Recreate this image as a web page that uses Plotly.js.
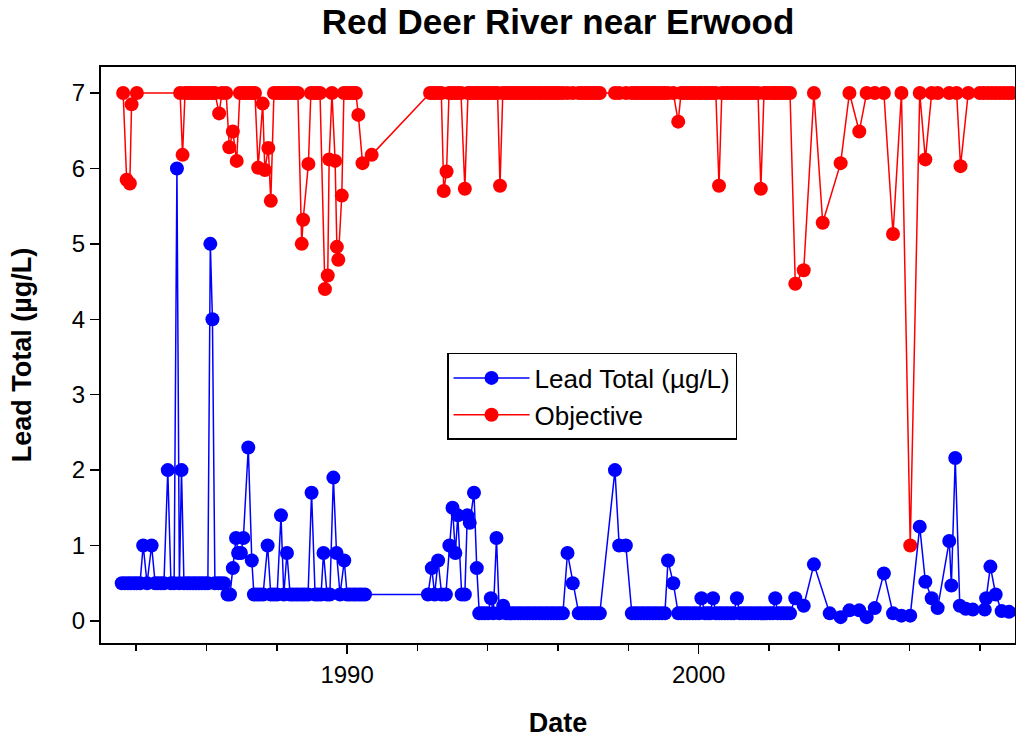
<!DOCTYPE html>
<html>
<head>
<meta charset="utf-8">
<script src="https://cdn.plot.ly/plotly-3.0.1.min.js"></script>
<style>html,body{margin:0;padding:0;background:#fff;}</style>
</head>
<body>
<div id="chart" style="width:1016px;height:741px;"></div>
<script>
// Sample dates (decimal years) and Lead Total (µg/L)
const leadDates = [
  1983.59,1983.68,1983.77,1983.85,1983.94,1984.02,1984.11,1984.20,1984.31,1984.44,
  1984.54,1984.62,1984.71,1984.79,1984.90,1984.99,1985.08,1985.16,1985.23,1985.29,
  1985.36,1985.45,1985.53,1985.62,1985.70,1985.79,1985.87,1985.96,1986.04,1986.11,
  1986.17,1986.24,1986.33,1986.41,1986.50,1986.60,1986.67,1986.75,1986.84,1986.90,
  1986.98,1987.05,1987.19,1987.29,1987.35,1987.44,1987.52,1987.61,1987.74,1987.83,
  1987.92,1988.01,1988.12,1988.20,1988.29,1988.38,1988.46,1988.55,1988.63,1988.72,
  1988.80,1988.89,1988.99,1989.09,1989.17,1989.26,1989.33,1989.43,1989.51,1989.61,
  1989.70,1989.80,1989.92,1990.00,1990.08,1990.17,1990.25,1990.34,1990.42,1990.51,
  1992.30,1992.41,1992.49,1992.59,1992.69,1992.81,1992.91,1993.00,1993.08,1993.15,
  1993.26,1993.35,1993.42,1993.49,1993.61,1993.69,1993.76,1993.84,1993.92,1994.01,
  1994.09,1994.16,1994.25,1994.33,1994.44,1994.52,1994.60,1994.69,1994.77,1994.86,
  1994.94,1995.03,1995.12,1995.20,1995.29,1995.37,1995.46,1995.54,1995.63,1995.71,
  1995.80,1995.88,1995.97,1996.05,1996.14,1996.27,1996.42,1996.59,1996.68,1996.77,
  1996.85,1996.94,1997.02,1997.11,1997.19,1997.62,1997.74,1997.93,1998.10,1998.19,
  1998.27,1998.36,1998.44,1998.53,1998.61,1998.70,1998.78,1998.87,1998.96,1999.04,
  1999.13,1999.28,1999.42,1999.50,1999.58,1999.67,1999.75,1999.84,1999.92,2000.01,
  2000.08,2000.18,2000.26,2000.33,2000.41,2000.49,2000.58,2000.66,2000.75,2000.83,
  2000.92,2001.00,2001.09,2001.17,2001.26,2001.34,2001.43,2001.51,2001.60,2001.69,
  2001.77,2001.86,2001.94,2002.03,2002.11,2002.18,2002.25,2002.34,2002.42,2002.51,
  2002.60,2002.75,2002.99,2003.28,2003.73,2004.04,2004.29,2004.57,2004.78,2005.01,
  2005.27,2005.53,2005.77,2006.02,2006.29,2006.45,2006.63,2006.80,2007.13,2007.19,
  2007.30,2007.43,2007.60,2007.80,2008.14,2008.18,2008.30,2008.45,2008.62,2008.83
];
const leadValues = [
  0.5,0.5,0.5,0.5,0.5,0.5,0.5,1.0,0.5,1.0,
  0.5,0.5,0.5,0.5,2.0,0.5,0.5,6.0,0.5,2.0,
  0.5,0.5,0.5,0.5,0.5,0.5,0.5,0.5,0.5,5.0,
  4.0,0.5,0.5,0.5,0.5,0.35,0.35,0.7,1.1,0.9,
  0.9,1.1,2.3,0.8,0.35,0.35,0.35,0.35,1.0,0.35,
  0.35,0.35,1.4,0.35,0.9,0.35,0.35,0.35,0.35,0.35,
  0.35,0.35,1.7,0.35,0.35,0.35,0.9,0.35,0.35,1.9,
  0.9,0.35,0.8,0.35,0.35,0.35,0.35,0.35,0.35,0.35,
  0.35,0.7,0.35,0.8,0.35,0.35,1.0,1.5,0.9,1.4,
  0.35,0.35,1.4,1.3,1.7,0.7,0.1,0.1,0.1,0.1,
  0.3,0.1,1.1,0.1,0.2,0.1,0.1,0.1,0.1,0.1,
  0.1,0.1,0.1,0.1,0.1,0.1,0.1,0.1,0.1,0.1,
  0.1,0.1,0.1,0.1,0.1,0.9,0.5,0.1,0.1,0.1,
  0.1,0.1,0.1,0.1,0.1,2.0,1.0,1.0,0.1,0.1,
  0.1,0.1,0.1,0.1,0.1,0.1,0.1,0.1,0.1,0.1,
  0.8,0.5,0.1,0.1,0.1,0.1,0.1,0.1,0.1,0.1,
  0.3,0.1,0.1,0.1,0.3,0.1,0.1,0.1,0.1,0.1,
  0.1,0.1,0.3,0.1,0.1,0.1,0.1,0.1,0.1,0.1,
  0.1,0.1,0.1,0.1,0.1,0.3,0.1,0.1,0.1,0.1,
  0.1,0.3,0.2,0.75,0.1,0.05,0.14,0.14,0.05,0.17,
  0.63,0.1,0.07,0.07,1.25,0.52,0.3,0.17,1.06,0.47,
  2.16,0.2,0.16,0.15,0.15,0.3,0.72,0.35,0.13,0.12
];

// Objective (µg/L) dates and values
const objDates = [
  1983.63,1983.73,1983.82,1983.87,1984.02,1985.25,1985.32,1985.39,1985.47,1985.56,
  1985.64,1985.73,1985.82,1985.90,1985.99,1986.07,1986.16,1986.24,1986.36,1986.44,
  1986.56,1986.65,1986.75,1986.86,1986.95,1987.04,1987.12,1987.21,1987.29,1987.38,
  1987.47,1987.60,1987.66,1987.76,1987.83,1987.92,1988.01,1988.09,1988.18,1988.26,
  1988.35,1988.43,1988.52,1988.60,1988.71,1988.75,1988.90,1988.97,1989.06,1989.14,
  1989.23,1989.37,1989.45,1989.49,1989.57,1989.66,1989.71,1989.75,1989.85,1989.91,
  1990.00,1990.08,1990.17,1990.25,1990.32,1990.44,1990.70,1992.36,1992.44,1992.53,
  1992.61,1992.68,1992.75,1992.83,1992.90,1992.98,1993.07,1993.15,1993.24,1993.35,
  1993.44,1993.52,1993.61,1993.69,1993.78,1993.86,1993.95,1994.03,1994.12,1994.21,
  1994.28,1994.35,1994.43,1994.52,1994.60,1994.69,1994.77,1994.86,1994.94,1995.03,
  1995.12,1995.20,1995.29,1995.37,1995.46,1995.54,1995.63,1995.71,1995.80,1995.88,
  1995.97,1996.05,1996.14,1996.27,1996.42,1996.59,1996.68,1996.77,1996.85,1996.94,
  1997.02,1997.11,1997.19,1997.62,1997.74,1997.93,1998.10,1998.19,1998.27,1998.36,
  1998.44,1998.53,1998.61,1998.70,1998.78,1998.87,1998.96,1999.04,1999.13,1999.28,
  1999.42,1999.50,1999.58,1999.67,1999.75,1999.84,1999.92,2000.01,2000.08,2000.18,
  2000.26,2000.33,2000.41,2000.49,2000.58,2000.66,2000.75,2000.83,2000.92,2001.00,
  2001.09,2001.17,2001.26,2001.34,2001.43,2001.51,2001.60,2001.69,2001.77,2001.86,
  2001.94,2002.03,2002.11,2002.18,2002.25,2002.34,2002.42,2002.51,2002.60,2002.75,
  2002.99,2003.28,2003.53,2004.04,2004.29,2004.57,2004.78,2005.01,2005.27,2005.53,
  2005.77,2006.02,2006.29,2006.45,2006.63,2006.80,2007.13,2007.34,2007.45,2007.67,
  2008.00,2008.11,2008.23,2008.34,2008.45,2008.57,2008.68,2008.80,2008.91
];
const objValues = [
  7,5.85,5.8,6.85,7,7,6.18,7,7,7,
  7,7,7,7,7,7,7,7,6.73,7,
  7,6.28,6.49,6.1,7,7,7,7,7,7,
  6.01,6.86,5.98,6.27,5.57,7,7,7,7,7,
  7,7,7,7,5.0,5.32,6.06,7,7,7,
  7,4.4,4.58,6.12,7,6.1,4.96,4.79,5.64,7,
  7,7,7,7,6.71,6.07,6.18,7,7,7,
  7,7,5.7,5.96,7,7,7,7,7,5.73,
  7,7,7,7,7,7,7,7,7,7,
  7,5.77,7,7,7,7,7,7,7,7,
  7,7,7,7,7,7,7,7,7,7,
  7,7,7,7,7,7,7,7,7,7,
  7,7,7,7,7,7,7,7,7,7,
  7,7,7,7,7,7,7,7,7,7,
  6.62,7,7,7,7,7,7,7,7,7,
  7,7,7,7,5.77,7,7,7,7,7,
  7,7,7,7,7,7,7,7,5.73,7,
  7,7,7,7,7,7,7,7,7,4.47,
  4.65,7,5.28,6.07,7,6.49,7,7,7,5.13,
  7,1.0,7,6.12,7,7,7,7,6.03,7,
  7,7,7,7,7,7,7,7,7
];

const seriesNames = ['Lead Total (µg/L)', 'Objective'];
const xTickVals = [1990, 2000];
const xTickText = ['1990', '2000'];
const yTickVals = [0, 1, 2, 3, 4, 5, 6, 7];

const FONT = 'Liberation Sans, Arial, Helvetica, sans-serif';

const traces = [
  {
    x: leadDates, y: leadValues, name: seriesNames[0],
    type: 'scatter', mode: 'lines+markers',
    line: {color: '#0000FF', width: 1.5},
    marker: {color: '#0000FF', size: 14, line: {width: 0}}
  },
  {
    x: objDates, y: objValues, name: seriesNames[1],
    type: 'scatter', mode: 'lines+markers',
    line: {color: '#FF0000', width: 1.5},
    marker: {color: '#FF0000', size: 14, line: {width: 0}}
  }
];

const layout = {
  width: 1016, height: 741,
  paper_bgcolor: '#fff', plot_bgcolor: '#fff',
  margin: {l: 101, r: 1, t: 67, b: 98, pad: 0},
  font: {family: FONT, color: '#000'},
  showlegend: true,
  title: {
    text: 'Red Deer River near Erwood',
    font: {family: FONT, size: 35, weight: 'bold', color: '#000'},
    x: 0.5, xref: 'paper', y: 0.97, yref: 'container', yanchor: 'middle'
  },
  xaxis: {
    range: [1983.0, 2009.0],
    tickmode: 'array', tickvals: xTickVals, ticktext: xTickText,
    ticks: 'outside', ticklen: 9, tickwidth: 1.5, tickcolor: '#000',
    minor: {tick0: 1984, dtick: 2, ticks: 'outside', ticklen: 6, tickwidth: 1.5, tickcolor: '#000', showgrid: false},
    ticklabelstandoff: 0,
    tickfont: {family: FONT, size: 24, color: '#000'},
    showline: true, linewidth: 2, linecolor: '#000', mirror: true,
    showgrid: false, zeroline: false,
    title: {text: 'Date', font: {family: FONT, size: 27, weight: 'bold', color: '#000'}, standoff: 26}
  },
  yaxis: {
    range: [-0.293, 7.345],
    tickmode: 'array', tickvals: yTickVals,
    ticks: 'outside', ticklen: 9, tickwidth: 1.5, tickcolor: '#000',
    tickfont: {family: FONT, size: 24, color: '#000'},
    showline: true, linewidth: 2, linecolor: '#000', mirror: true,
    showgrid: false, zeroline: false,
    title: {text: 'Lead Total (µg/L)', font: {family: FONT, size: 27, weight: 'bold', color: '#000'}, standoff: 32}
  },
  legend: {
    x: 0.3786, y: 0.5035, xanchor: 'left', yanchor: 'top',
    bgcolor: '#fff', bordercolor: '#000', borderwidth: 1.5,
    font: {family: FONT, size: 26, color: '#000'},
    itemwidth: 76
  }
};

Plotly.newPlot('chart', traces, layout, {displayModeBar: false, staticPlot: true});
</script>
</body>
</html>
